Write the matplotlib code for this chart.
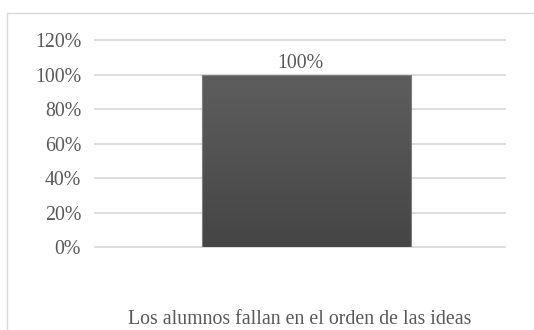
import numpy as np
import matplotlib
matplotlib.use("Agg")
import matplotlib.pyplot as plt
from matplotlib.patches import Rectangle

categories = ["Los alumnos fallan en el orden de las ideas"]
values = [1.00]
yticks = [0, 0.2, 0.4, 0.6, 0.8, 1.0, 1.2]

plt.rcParams['font.family'] = ['Liberation Serif', 'DejaVu Serif']
txt_color = '#595959'
fs = 14.3

W, H = 534, 330
fig = plt.figure(figsize=(W / 100, H / 100), dpi=100)
ax = fig.add_axes([95 / W, 1 - 247 / H, 410 / W, (247 - 40.3) / H])

# chart border (cut off at right and bottom like the reference)
fig.patches.append(Rectangle((7 / W, -0.1), 1.2, 1 - 13 / H + 0.1, transform=fig.transFigure,
                             fill=False, edgecolor='#d9d9d9', linewidth=1.0))

# bar sits slightly right of the plot centre in the original
ax.set_xlim(-0.515, 0.485)
ax.set_ylim(0, 1.2)
for y in yticks:
    ax.axhline(y, color='#d9d9d9', linewidth=1.3, zorder=0, clip_on=False)

bars = ax.bar(range(len(values)), values, width=0.51, color='none', edgecolor='#7f7f7f',
              linewidth=0.8, zorder=3)
# vertical gradient fill
cmap = matplotlib.colors.LinearSegmentedColormap.from_list('g', ['#454545', '#5e5e5e'])
grad = np.linspace(0, 1, 256).reshape(-1, 1)
for b, v in zip(bars, values):
    x0, w, h = b.get_x(), b.get_width(), b.get_height()
    im = ax.imshow(grad, extent=[x0, x0 + w, 0, h], aspect='auto', origin='lower',
                   cmap=cmap, zorder=2)
    im.set_clip_path(b)
    ax.annotate(f"{v:.0%}", (x0 + w / 2, h), xytext=(-4, 1), textcoords='offset points',
                ha='center', va='bottom', fontsize=fs, color=txt_color)

ax.set_yticks(yticks)
ax.set_yticklabels([f"{int(round(v * 100))}%" for v in yticks], fontsize=fs, color=txt_color)
ax.set_xticks([])
ax.tick_params(axis='y', length=0, pad=10)
for s in ax.spines.values():
    s.set_visible(False)

fig.text((95 + 205) / W, 1 / H, categories[0], ha='center', va='bottom',
         fontsize=fs, color=txt_color)

fig.savefig("out.png", dpi=100)
